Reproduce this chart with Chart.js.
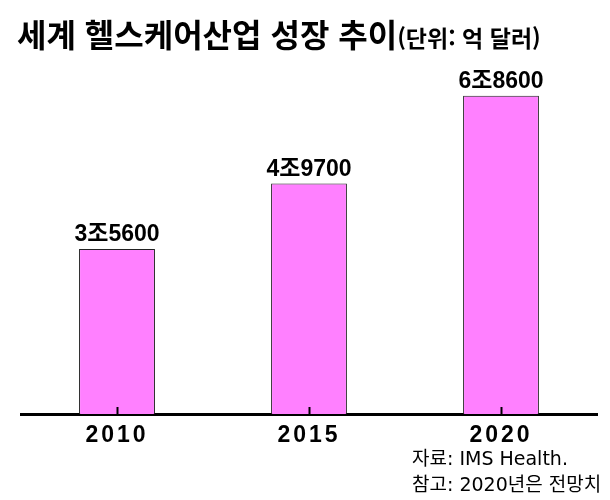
<!DOCTYPE html>
<html lang="ko">
<head>
<meta charset="utf-8">
<script src="https://cdn.jsdelivr.net/npm/chart.js@4/dist/chart.umd.min.js"></script>
<style>
  body { margin: 0; background: #fff; }
  #wrap { position: relative; width: 610px; height: 500px; }
  #chart { position: absolute; left: 0; top: 0; }
  .title {
    position: absolute; left: 17px; top: 10px; white-space: nowrap;
    font-family: "Noto Sans CJK KR", sans-serif; font-weight: bold; font-size: 32px; color: #000;
  }
  .title small { font-size: 23px; }
  .source {
    position: absolute; left: 412px; top: 445px; white-space: nowrap;
    font-family: "DejaVu Sans", "Noto Sans CJK KR", sans-serif; font-size: 19px; line-height: 26px; color: #000;
  }
</style>
</head>
<body>
<div id="wrap">
  <canvas id="chart" width="610" height="500"></canvas>
  <div class="title">세계 헬스케어산업 성장 추이<small>(단위: 억 달러)</small></div>
  <div class="source">자료: IMS Health.<br>참고: 2020년은 전망치</div>
</div>
<script>
// 연도별 시장 규모 (억 달러)
const years = ["2010", "2015", "2020"];
const marketSize = [35600, 49700, 68600];
const valueLabels = ["3조5600", "4조9700", "6조8600"];

// 막대 위 값 표시 + 축 위쪽 눈금
const barLabels = {
  id: "barLabels",
  beforeDraw(chart) {
    chart.ctx.letterSpacing = "3px";
  },
  beforeDatasetsDraw(chart) {
    chart.ctx.letterSpacing = "0px";
  },
  afterDatasetsDraw(chart) {
    const ctx = chart.ctx;
    const meta = chart.getDatasetMeta(0);
    const xScale = chart.scales.x;
    const bottom = chart.chartArea.bottom;
    ctx.save();
    ctx.strokeStyle = "#000";
    ctx.lineWidth = 2;
    years.forEach((y, i) => {
      const x = Math.round(xScale.getPixelForTick(i)) + 0.5;
      ctx.beginPath();
      ctx.moveTo(x, bottom);
      ctx.lineTo(x, bottom - 7);
      ctx.stroke();
    });
    ctx.fillStyle = "#000";
    ctx.font = "bold 23px 'Liberation Sans', 'Noto Sans CJK KR', sans-serif";
    ctx.textAlign = "center";
    ctx.textBaseline = "alphabetic";
    meta.data.forEach((bar, i) => {
      ctx.fillText(valueLabels[i], bar.x, bar.y - 8);
    });
    ctx.restore();
  }
};

new Chart(document.getElementById("chart"), {
  type: "bar",
  data: {
    labels: years,
    datasets: [{
      data: marketSize,
      backgroundColor: "#FF80FF",
      borderColor: "#222",
      borderWidth: 1,
      barPercentage: 0.395,
      categoryPercentage: 1
    }]
  },
  options: {
    responsive: false,
    animation: false,
    layout: { padding: { top: 43, left: 21, right: 13, bottom: 0 } },
    plugins: { legend: { display: false }, tooltip: { enabled: false } },
    scales: {
      x: {
        grid: { display: false },
        border: { display: true, color: "#000", width: 3 },
        ticks: {
          color: "#000",
          padding: 0,
          font: { family: "'Liberation Sans', Arial, sans-serif", size: 23, weight: "bold" }
        },
        afterFit(scale) { scale.height = 86; }
      },
      y: { display: false, min: 0, max: 80000 }
    }
  },
  plugins: [barLabels]
});
</script>
</body>
</html>
